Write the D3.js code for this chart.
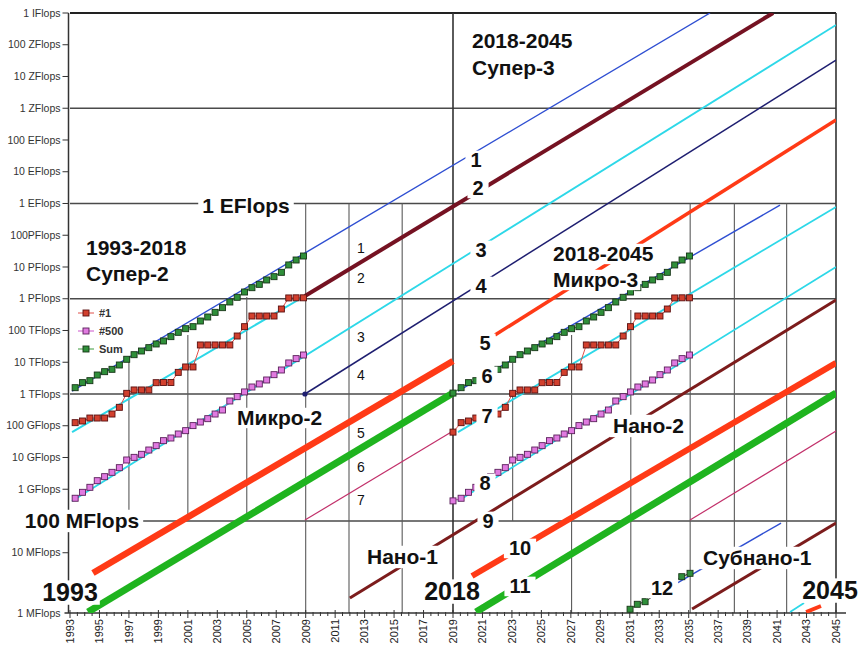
<!DOCTYPE html>
<html><head><meta charset="utf-8">
<script src="https://cdn.jsdelivr.net/npm/d3@7/dist/d3.min.js"></script>
<style>body{margin:0;background:#fff}svg{display:block;font-family:"Liberation Sans",Arial,sans-serif}</style>
</head><body><svg id="c" width="860" height="645"></svg>
<script>
// ================= DATA =================
// Top500 list dates (Супер-2 block) and the Микро-3 block
const yearsSuper2 = [1993.35,1993.85,1994.35,1994.85,1995.35,1995.85,1996.35,1996.85,1997.35,1997.85,1998.35,1998.85,1999.35,1999.85,2000.35,2000.85,2001.35,2001.85,2002.35,2002.85,2003.35,2003.85,2004.35,2004.85,2005.35,2005.85,2006.35,2006.85,2007.35,2007.85,2008.35,2008.85];
const yearsMicro3 = [2019.0,2019.55,2020.05,2020.55,2021.05,2021.55,2022.05,2022.55,2023.05,2023.55,2024.05,2024.55,2025.05,2025.55,2026.05,2026.55,2027.05,2027.55,2028.05,2028.55,2029.05,2029.55,2030.05,2030.55,2031.05,2031.55,2032.05,2032.55,2033.05,2033.55,2034.05,2034.55,2035.05];
// values in GFlops
const sumGF    = [1580,2280,2630,3960,5050,5980,8190,12400,17300,22600,28800,37600,46700,64000,87500,114000,132000,199000,266000,373000,524000,790000,1110000,1630000,2230000,2840000,3900000,4960000,6790000,11600000,16600000,22200000];
const top1GF   = [125,141,175,175,175,234,380,1050,1340,1340,1340,2270,2300,2300,4800,7100,7100,35000,35000,35000,35000,35000,67000,132000,286000,286000,286000,286000,475000,1060000,1070000,1070000];
const top500GF = [0.52,0.80,1.15,1.86,2.49,3.41,4.78,8.34,10.1,12.6,17.2,23.6,33.9,41.1,55,70,101,131,167,234,313,602,824,1160,1660,2070,2760,4060,5700,9500,13000,16900];
// Микро-3: a first point at 2019, then the same curve values repeated
const micro3SumGF    = [1070].concat(sumGF);
const micro3Top1GF   = [63].concat(top1GF);
const micro3Top500GF = [0.43].concat(top500GF);
// Субнано-1 Sum points
const subnanoYears = [2031.02,2031.51,2032.04,2034.53,2035.09];
const subnanoSumGF = [0.000166,0.000238,0.000287,0.00176,0.00225];

// straight lines: [year, Flops] end points
const sumTrend      = [[1993.14,1.24e12],[2036.45,1e24]];
const top1Trend     = [[1993.14,6.3e10],[2008.95,1.22e15]];
const line2         = [[2008.95,1.22e15],[2040.73,1e24]];
const top500Trend   = [[1993.14,4.27e8],[2045,4.19e23]];
const line4         = [[2008.95,1e12],[2045,3.3e22]];
const line5a        = [[1994.56,2.3e6],[2019,1.1e13]];
const line5b        = [[2021.85,7.2e13],[2045,4.3e20]];
const line6         = [[1994.22,1.36e5],[2019,1.07e12]];
const line7         = [[2008.95,1.07e8],[2019,6.8e10]];
const line9         = [[2012,3.76e5],[2045,9.1e14]];
const line10        = [[2020.29,1.85e6],[2045,9.5e12]];
const line11        = [[2020.56,1.36e5],[2045,1.07e12]];
const line7r        = [[2035.09,1.07e8],[2045,6.8e10]];
const m3SumTrend    = [[2019.34,1.24e12],[2041.2,8.9e17]];
const m3Top1Trend   = [[2019.34,6.3e10],[2045,7.8e17]];
const m3Top500Trend = [[2019.34,4.27e8],[2045,1e16]];
const snBlue        = [[2034.21,1.11e6],[2041.27,8.6e7]];
const snCyan        = [[2041.88,1.36e5],[2042.83,2.6e5]];
const snRed         = [[2042.97,1.36e5],[2043.98,2.1e5]];
const snBrown       = [[2035.23,1.69e5],[2045,8.6e7]];

// axis ticks
const xLabelYears = d3.range(1993, 2046, 2);
const yTickValues = [1e7,1e9,1e10,1e11,1e12,1e13,1e14,1e15,1e16,1e17,1e18,1e19,1e20,1e21,1e22,1e23,1e24];
const yTickLabels = ["10 MFlops","1 GFlops","10 GFlops","100 GFlops","1 TFlops","10 TFlops","100 TFlops","1 PFlops","10 PFlops","100PFlops","1 EFlops","10 EFlops","100 EFlops","1 ZFlops","10 ZFlops","100 ZFlops","1 IFlops"];
const baseLabel = "1 MFlops";
// grid
const hGridValues = [1e24,1e21,1e18,1e15,1e12,1e8];
const vGridYears  = [1997,2001,2005,2009,2011.94,2015.55,2019,2023.05,2027.05,2031.07,2035.1,2038.1,2041.65,2045];
const vGridTop    = [1.36e13,7.2e13,1.13e15,1e18,1e18,1e18,1e24,9.5e12,7.2e13,4.4e14,1e18,1e18,1e18,1e24];
const vGridBottom = [1e8,1e8,1e8,null,null,null,null,1e8,null,null,null,null,null,null];

// ================= DRAW =================
const svg = d3.select('#c');
const x = d3.scaleLinear().domain([1993,2045]).range([70,836]);
const yBase = Math.pow(10,5.102);
const y = d3.scaleLog().domain([yBase,1e24]).range([613,13]);
const GF = 1e9;

svg.append('defs').append('clipPath').attr('id','plot')
  .append('rect').attr('x',x(1993)-1).attr('y',y(1e24)).attr('width',x(2045)-x(1993)+1).attr('height',y(yBase)-y(1e24));

const gGrid = svg.append('g');
// horizontal grid
gGrid.selectAll('line.h').data(hGridValues).join('line')
  .attr('x1',x(1993)).attr('x2',x(2045))
  .attr('y1',d=>y(d)).attr('y2',d=>y(d))
  .attr('stroke',d=>d===1e24?'#222':'#4a4a4a').attr('stroke-width',d=>d===1e24?2:1.3);
// vertical grid
gGrid.selectAll('line.v').data(vGridYears).join('line')
  .attr('x1',d=>x(d)).attr('x2',d=>x(d))
  .attr('y1',(d,i)=>y(vGridTop[i])).attr('y2',(d,i)=>y(vGridBottom[i]===null?yBase:vGridBottom[i]))
  .attr('stroke',(d,i)=>(d===2019||d===2045)?'#333':'#5a5a5a').attr('stroke-width',(d,i)=>(d===2019||d===2045)?1.6:1.1);

// axes
const gAx = svg.append('g');
const ax0 = x(1993)-1.5;
gAx.append('line').attr('x1',ax0).attr('x2',ax0).attr('y1',y(1e24)).attr('y2',y(yBase)).attr('stroke','#333').attr('stroke-width',1.5);
gAx.append('line').attr('x1',ax0-4).attr('x2',x(2045)+10).attr('y1',y(yBase)).attr('y2',y(yBase)).attr('stroke','#333').attr('stroke-width',1.5);
yTickValues.forEach((v,i)=>{
  gAx.append('line').attr('x1',ax0-6).attr('x2',ax0).attr('y1',y(v)).attr('y2',y(v)).attr('stroke','#333');
  gAx.append('text').attr('x',ax0-8).attr('y',y(v)).attr('dy','0.35em').attr('text-anchor','end')
    .attr('font-size',10.5).attr('fill','#333').text(yTickLabels[i]);
});
gAx.append('text').attr('x',ax0-8).attr('y',y(yBase)).attr('dy','0.35em').attr('text-anchor','end')
  .attr('font-size',10.5).attr('fill','#333').text(baseLabel);
d3.range(1993,2045.01,0.5).forEach(yr=>{
  const major = xLabelYears.includes(yr);
  gAx.append('line').attr('x1',x(yr)).attr('x2',x(yr)).attr('y1',y(yBase)-(major?3:1)).attr('y2',y(yBase)+(major?5:3))
    .attr('stroke','#333').attr('stroke-width',1);
});
xLabelYears.forEach(yr=>{
  gAx.append('text').attr('transform',`translate(${x(yr)},${y(yBase)+6}) rotate(-90)`)
    .attr('text-anchor','end').attr('dy','0.35em').attr('font-size',11).attr('fill','#222').text(yr);
});

// lines
const gL = svg.append('g').attr('clip-path','url(#plot)');
const blue='#2f4fd2', cyan='#2dd8e8', red='#ff3a16', green='#1fb41f', brown='#7c1c1c', crimson='#c2306a';
const lineTable = [
  [sumTrend,blue,1.4],[top1Trend,cyan,2],[top500Trend,cyan,1.8],[line2,'#751222',4],[line4,'#1e1e70',1.5],
  [line5a,red,6.5],[line5b,red,3.5],[line6,green,7],[line7,crimson,1.2],[line9,brown,3],
  [line10,red,6],[line11,green,7],[line7r,crimson,1.2],
  [m3SumTrend,blue,1.4],[m3Top1Trend,cyan,1.8],[m3Top500Trend,cyan,1.8],
  [snBlue,blue,1.4],[snCyan,cyan,1.8],[snRed,red,4],[snBrown,brown,3]
];
const lg = d3.line().x(d=>x(d[0])).y(d=>y(d[1]));
lineTable.forEach(([pts,col,w])=>{
  gL.append('path').attr('d',lg(pts)).attr('fill','none').attr('stroke',col).attr('stroke-width',w);
});
// dot at start of line 4
gL.append('circle').attr('cx',x(line4[0][0])).attr('cy',y(line4[0][1])).attr('r',2.6).attr('fill','#1e1e70');

// data series
function series(years, vals, lineCol, fill, stroke){
  const pts = years.map((yr,i)=>[yr, vals[i]*GF]);
  gL.append('path').attr('d',lg(pts)).attr('fill','none').attr('stroke',lineCol).attr('stroke-width',1);
  gL.selectAll(null).data(pts).join('rect')
    .attr('x',d=>x(d[0])-3).attr('y',d=>y(d[1])-3).attr('width',6).attr('height',6)
    .attr('fill',fill).attr('stroke',stroke).attr('stroke-width',0.9);
}
const S={sum:['#3a9a3a','#2f8f3a','#173517'], top1:['#e0504a','#d2402e','#5a1010'], top500:['#cc55cc','#e07ae0','#5a205a']};
series(yearsSuper2, sumGF, ...S.sum);
series(yearsSuper2, top1GF, ...S.top1);
series(yearsSuper2, top500GF, ...S.top500);
series(yearsMicro3, micro3SumGF, ...S.sum);
series(yearsMicro3, micro3Top1GF, ...S.top1);
series(yearsMicro3, micro3Top500GF, ...S.top500);
series(subnanoYears, subnanoSumGF, '#222', S.sum[1], S.sum[2]);

// ===== labels with white boxes =====
const gLab = svg.append('g');
function label(txt, px, py, size, anchor, padX, padY, weight){
  const t = gLab.append('text').attr('x',px).attr('y',py).attr('font-size',size)
    .attr('font-weight',weight||'bold').attr('text-anchor',anchor).attr('fill','#111').text(txt);
  const bb = t.node().getBBox();
  gLab.insert('rect',()=>t.node()).attr('x',bb.x-padX).attr('y',bb.y+bb.height*0.12-padY)
    .attr('width',bb.width+2*padX).attr('height',bb.height*0.8+2*padY).attr('fill','#fff');
}
label('1 EFlops',246,213,21,'middle',4,1);
label('100 MFlops',82,528,21,'middle',4,2);
label('1993',70,601,25,'middle',2,1);
label('2018',452,600,25,'middle',3,1);
label('2045',830,599,25,'middle',3,1);
label('1993-2018',86,255,21,'start',2,1);
label('Супер-2',86,281,21,'start',2,1);
label('2018-2045',472,48,21,'start',2,1);
label('Супер-3',472,75,21,'start',2,1);
label('2018-2045',553,261,21,'start',2,1);
label('Микро-3',553,287,21,'start',2,1);
label('Микро-2',237,425,21,'start',2,1);
label('Нано-1',367,564,21,'start',3,2);
label('Нано-2',613,433,21,'start',3,2);
label('Субнано-1',703,565,21,'start',3,2);
[['1',476,167],['2',478,195],['3',481,257],['4',481,293],['5',485,350],['6',487,383],['7',487,423],['8',485,490],['9',488,528],['10',520,555],['11',520,593],['12',662,595]]
  .forEach(([t,px,py])=>label(t,px,py,20,'middle',5,1));
// small numbers
[['1',253],['2',283],['3',342],['4',380],['5',438],['6',472],['7',505]].forEach(([t,py])=>{
  gLab.append('text').attr('x',361).attr('y',py).attr('text-anchor','middle').attr('font-size',14).attr('fill','#111').text(t);
});
// legend
const legend = [['#1',S.top1],['#500',S.top500],['Sum',S.sum]];
legend.forEach(([name,st],i)=>{
  const ly = 313 + i*18;
  gLab.append('line').attr('x1',78).attr('x2',94).attr('y1',ly).attr('y2',ly).attr('stroke',st[0]).attr('stroke-width',1);
  gLab.append('rect').attr('x',83).attr('y',ly-3).attr('width',6).attr('height',6).attr('fill',st[1]).attr('stroke',st[2]).attr('stroke-width',0.9);
  gLab.append('text').attr('x',99).attr('y',ly).attr('dy','0.35em').attr('font-size',11).attr('font-weight','bold').attr('fill','#333').text(name);
});
</script></body></html>
